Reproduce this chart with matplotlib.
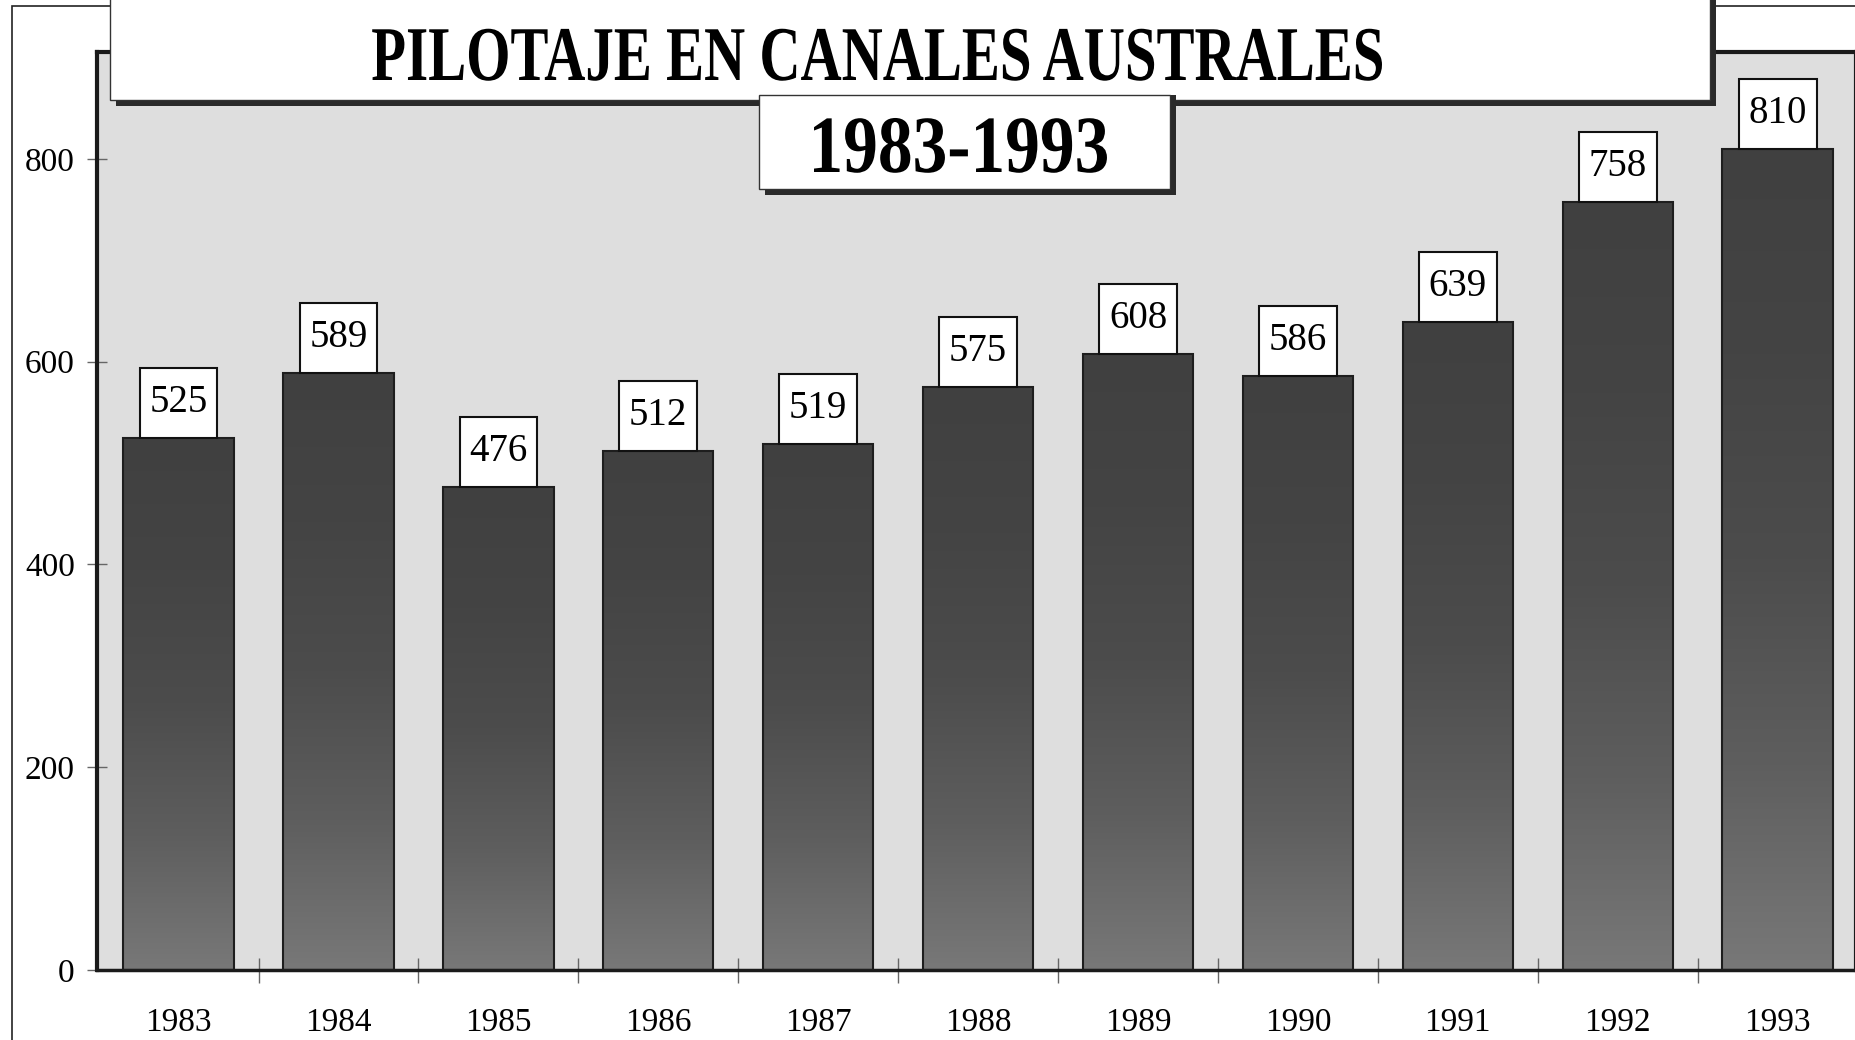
import numpy as np
import matplotlib
matplotlib.use("Agg")
import matplotlib.pyplot as plt
from matplotlib import patheffects
from matplotlib.patches import Rectangle
from matplotlib.transforms import Affine2D
from matplotlib.colors import LinearSegmentedColormap

YEARS     = ["1983", "1984", "1985", "1986", "1987", "1988",
             "1989", "1990", "1991", "1992", "1993"]
PILOTAJES = [525, 589, 476, 512, 519, 575, 608, 586, 639, 758, 810]
Y_TICKS   = [0, 200, 400, 600, 800]
TITLE     = "PILOTAJE EN CANALES AUSTRALES"
SUBTITLE  = "1983-1993"

W, H = 1856, 1040
DPI  = 100


class StretchY(patheffects.AbstractPathEffect):
    """Draw glyphs taller than the font -- the scan uses a condensed bold face."""
    def __init__(self, sy):
        super().__init__()
        self.sy = sy

    def draw_path(self, renderer, gc, tpath, affine, rgbFace=None):
        renderer.draw_path(gc, tpath, Affine2D().scale(1.0, self.sy) + affine,
                           rgbFace)


def fig_box(fig, x0, y0, x1, y1, **kw):
    """Rectangle on the figure, given in pixels from the top-left corner."""
    r = Rectangle((x0 / W, 1 - y1 / H), (x1 - x0) / W, (y1 - y0) / H,
                  transform=fig.transFigure, **kw)
    fig.add_artist(r)
    return r


plt.rcParams["font.family"] = ["Liberation Serif", "DejaVu Serif"]

fig = plt.figure(figsize=(W / DPI, H / DPI), dpi=DPI)
fig.patch.set_facecolor("white")
ax = fig.add_axes([97 / W, 70 / H, 1 - 97 / W, 918 / H])
ax.set_facecolor("#dedede")

x = np.arange(len(YEARS))
bars = ax.bar(x, PILOTAJES, width=0.69, color="none", edgecolor="#1e1e1e",
              lw=1.5, zorder=3)

# vertical shading inside each bar: lighter at the base, dark at the top
grad = np.linspace(0, 1, 256)[:, None]
cmap = LinearSegmentedColormap.from_list(
    "bar", ["#787878", "#5e5e5e", "#4c4c4c", "#444444", "#404040"])
for b in bars:
    x0, w, h = b.get_x(), b.get_width(), b.get_height()
    ax.imshow(grad, cmap=cmap, aspect="auto", origin="lower",
              extent=(x0, x0 + w, 0, h), zorder=2)

# value boxes sitting on top of each bar
for xi, v in zip(x, PILOTAJES):
    ax.add_patch(Rectangle((xi - 0.243, v), 0.486, 69, facecolor="white",
                           edgecolor="#111111", lw=1.5, zorder=4))
    ax.text(xi, v + 35, str(v), ha="center", va="center", fontsize=28,
            zorder=5)

ax.set_xlim(-0.51, 10.49)
ax.set_ylim(0, 905.5)

ax.set_yticks(Y_TICKS)
ax.tick_params(axis="y", direction="inout", length=14, width=1,
               color="#666666", labelsize=24, pad=9)
ax.set_xticks(x, YEARS)
ax.tick_params(axis="x", length=0, labelsize=24, pad=27)
ax.set_xticks(x[:-1] + 0.5, minor=True)
ax.tick_params(axis="x", which="minor", direction="inout", length=18,
               width=1, color="#666666")

for side, lw in [("left", 3), ("bottom", 2.5), ("top", 3), ("right", 3)]:
    ax.spines[side].set_linewidth(lw)
    ax.spines[side].set_color("#1a1a1a")

# page frame and the two title boxes with drop shadows
fig_box(fig, 12, 6, W + 20, H + 20, fill=False, edgecolor="#222222",
        lw=1.2, zorder=4)
fig_box(fig, 116, -10, 1716, 106, facecolor="#2a2a2a", lw=0, zorder=6)
fig_box(fig, 110, -10, 1710, 100, facecolor="white", edgecolor="#333333",
        lw=1, zorder=7)
fig_box(fig, 765, 95, 1176, 195, facecolor="#2a2a2a", lw=0, zorder=8)
fig_box(fig, 759, 95, 1170, 189, facecolor="white", edgecolor="#333333",
        lw=1, zorder=9)

fig.text(878 / W, 1 - 80 / H, TITLE, ha="center", va="baseline",
         fontsize=41, fontweight="bold", path_effects=[StretchY(1.36)],
         zorder=10)
fig.text(959 / W, 1 - 172 / H, SUBTITLE, ha="center", va="baseline",
         fontsize=50, fontweight="bold", path_effects=[StretchY(1.17)],
         zorder=10)

fig.savefig("out.png", dpi=DPI)
plt.close(fig)
